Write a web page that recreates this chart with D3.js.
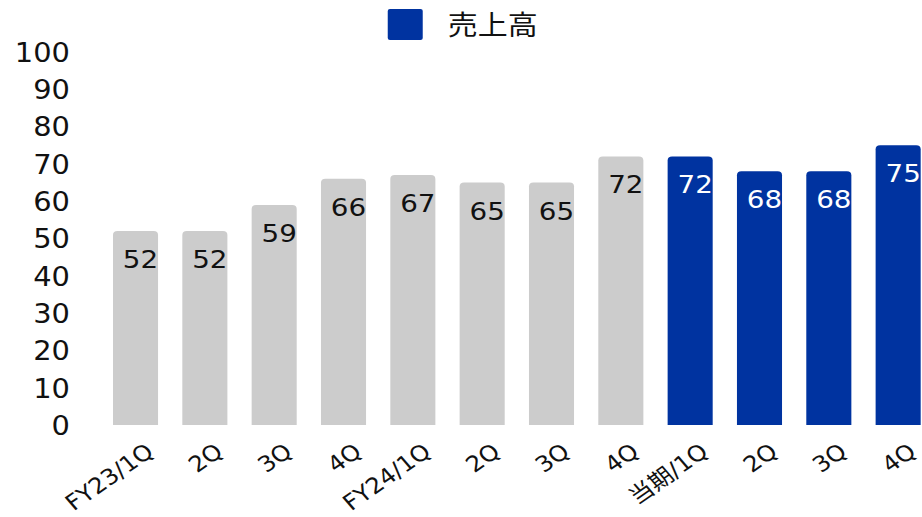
<!DOCTYPE html>
<html>
<head>
<meta charset="utf-8">
<script src="https://cdn.jsdelivr.net/npm/d3@7"></script>
<style>
  html, body { margin: 0; padding: 0; background: #fff; }
  svg { display: block; }
  text { font-family: "DejaVu Sans", "Noto Sans CJK JP", sans-serif; }
</style>
</head>
<body>
<svg id="chart"></svg>
<script>
// Quarterly sales (売上高)
const categories = ["FY23/1Q", "2Q", "3Q", "4Q", "FY24/1Q", "2Q", "3Q", "4Q", "当期/1Q", "2Q", "3Q", "4Q"];
const sales = [52, 52, 59, 66, 67, 65, 65, 72, 72, 68, 68, 75];
const isCurrent = [false, false, false, false, false, false, false, false, true, true, true, true];
const yTicks = [0, 10, 20, 30, 40, 50, 60, 70, 80, 90, 100];
const legendLabel = "売上高";

const W = 922, H = 517;
const SX = 1.111;            // horizontal stretch of the drawing
const VW = W / SX;

const GRAY = "#cccccc", BLUE = "#0033a0";

const svg = d3.select("#chart")
  .attr("width", W).attr("height", H)
  .attr("viewBox", `0 0 ${VW} ${H}`)
  .attr("preserveAspectRatio", "none");

const keys = categories.map((c, i) => i);
const x = d3.scaleBand().domain(keys)
  .range([101.7, 828.7]).paddingInner(0.35).paddingOuter(0);
const y = d3.scaleLinear().domain([0, 100]).range([425, 52]);

// y axis labels (no axis line, no ticks)
const yAxis = d3.axisLeft(y).tickValues(yTicks).tickSize(0).tickPadding(0);
const gy = svg.append("g").attr("transform", "translate(63,0)").call(yAxis);
gy.select(".domain").remove();
gy.selectAll("text")
  .attr("font-size", 26).attr("fill", "#111")
  .attr("font-family", "DejaVu Sans").attr("dy", "0.36em");

// bars with rounded top corners
const r = 4;
function barPath(x0, w, yTop, yBot) {
  return `M${x0},${yBot}V${yTop + r}Q${x0},${yTop} ${x0 + r},${yTop}` +
    `H${x0 + w - r}Q${x0 + w},${yTop} ${x0 + w},${yTop + r}V${yBot}Z`;
}
svg.append("g").selectAll("path").data(keys).join("path")
  .attr("d", i => barPath(x(i), x.bandwidth(), y(sales[i]), y(0)))
  .attr("fill", i => isCurrent[i] ? BLUE : GRAY);

// value labels inside bars
svg.append("g").selectAll("text").data(keys).join("text")
  .attr("x", i => x(i) + x.bandwidth() / 2 + 4.5)
  .attr("y", i => y(sales[i]) + 28)
  .attr("dy", "0.36em")
  .attr("text-anchor", "middle")
  .attr("font-size", 25)
  .attr("fill", i => isCurrent[i] ? "#ffffff" : "#111")
  .text(i => sales[i]);

// category labels, rotated
svg.append("g").selectAll("text").data(keys).join("text")
  .attr("transform", i => `translate(${x(i) + x.bandwidth() / 2 + 8},${442}) rotate(-38)`)
  .attr("text-anchor", "end")
  .attr("dy", "0.71em")
  .attr("font-size", 22)
  .attr("fill", "#111")
  .text(i => categories[i]);

// legend
const lg = svg.append("g");
lg.append("rect").attr("x", 349).attr("y", 9).attr("width", 31.5).attr("height", 31)
  .attr("rx", 2).attr("fill", BLUE);
lg.append("text").attr("x", 403).attr("y", 25).attr("dy", "0.36em")
  .attr("font-size", 27).attr("fill", "#111")
  .attr("font-family", "Noto Sans CJK JP")
  .text(legendLabel);
</script>
</body>
</html>
